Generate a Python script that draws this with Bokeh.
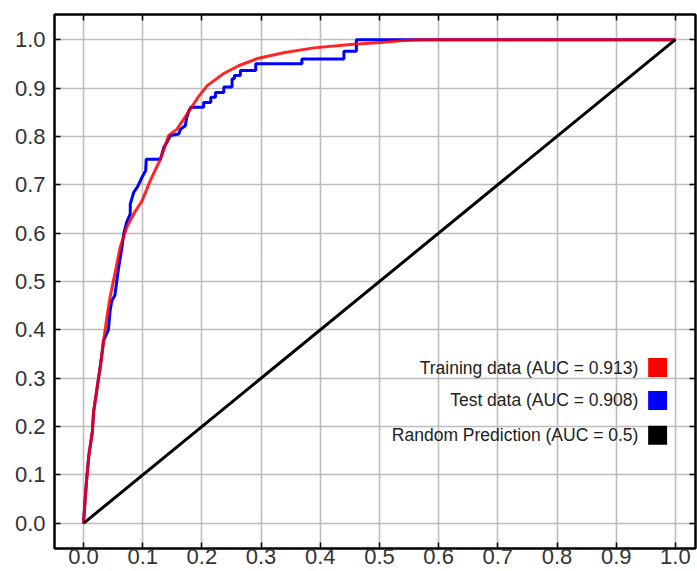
from bokeh.plotting import figure
from bokeh.models import (LinearAxis, FixedTicker, PrintfTickFormatter, Label,
                          BoxAnnotation)
from bokeh.embed import file_html
from bokeh.resources import INLINE

# ---- data ----
train_fpr = [0.0, 0.003, 0.006, 0.009, 0.015, 0.017, 0.023, 0.029, 0.034, 0.040,
             0.045, 0.053, 0.062, 0.073, 0.085, 0.099, 0.113, 0.130, 0.144, 0.158,
             0.175, 0.193, 0.209, 0.237, 0.262, 0.294, 0.338, 0.389, 0.451, 0.502,
             0.540, 0.575, 1.0]
train_tpr = [0.0, 0.054, 0.100, 0.140, 0.190, 0.230, 0.280, 0.330, 0.378, 0.430,
             0.468, 0.516, 0.571, 0.612, 0.640, 0.667, 0.709, 0.753, 0.802, 0.815,
             0.846, 0.880, 0.905, 0.930, 0.946, 0.961, 0.973, 0.983, 0.990, 0.994,
             0.998, 1.0, 1.0]

test_fpr = [0.0, 0.003, 0.006, 0.009, 0.015, 0.017, 0.023, 0.029, 0.034, 0.042,
            0.045, 0.048, 0.053, 0.056, 0.059, 0.065, 0.068, 0.073, 0.079, 0.079,
            0.085, 0.091, 0.099, 0.105, 0.106, 0.130, 0.136, 0.141, 0.147, 0.161,
            0.164, 0.172, 0.174, 0.178, 0.181, 0.203, 0.203, 0.215, 0.215, 0.223,
            0.223, 0.237, 0.237, 0.251, 0.251, 0.255, 0.255, 0.265, 0.265, 0.291,
            0.291, 0.369, 0.369, 0.440, 0.440, 0.461, 0.461, 1.0]
test_tpr = [0.0, 0.054, 0.100, 0.140, 0.190, 0.230, 0.280, 0.330, 0.378, 0.400,
            0.440, 0.461, 0.471, 0.499, 0.526, 0.571, 0.599, 0.623, 0.640, 0.660,
            0.685, 0.695, 0.716, 0.729, 0.753, 0.753, 0.778, 0.788, 0.802, 0.805,
            0.815, 0.822, 0.837, 0.853, 0.860, 0.860, 0.870, 0.870, 0.881, 0.881,
            0.891, 0.891, 0.902, 0.902, 0.919, 0.919, 0.926, 0.926, 0.936, 0.936,
            0.950, 0.950, 0.960, 0.960, 0.976, 0.976, 1.0, 1.0]

random_fpr = [0.0, 1.0]
random_tpr = [0.0, 1.0]

tick_values = [0.0, 0.1, 0.2, 0.3, 0.4, 0.5, 0.6, 0.7, 0.8, 0.9, 1.0]

legend_labels = ["Training data (AUC = 0.913)",
                 "Test data (AUC = 0.908)",
                 "Random Prediction (AUC = 0.5)"]
legend_colors = ["#ff0000", "#0000ff", "#000000"]

FONT = "Liberation Sans"

p = figure(width=697, height=571,
           x_range=(-0.049, 1.034), y_range=(-0.052, 1.052),
           output_backend="svg", toolbar_location=None,
           min_border_left=54, min_border_right=2,
           min_border_top=14, min_border_bottom=23)

p.outline_line_color = "black"
p.outline_line_width = 2

for g in (p.xgrid, p.ygrid):
    g.ticker = FixedTicker(ticks=tick_values)
    g.grid_line_color = "#bdbdbd"
    g.grid_line_width = 1.6

for ax in (p.xaxis[0], p.yaxis[0]):
    ax.ticker = FixedTicker(ticks=tick_values)
    ax.formatter = PrintfTickFormatter(format="%.1f")
    ax.major_label_text_font = FONT
    ax.major_label_text_font_size = "22px"
    ax.major_label_text_color = "#333333"
    ax.major_tick_in = 6
    ax.major_tick_out = 0
    ax.minor_tick_line_color = None
    ax.major_tick_line_color = "black"
    ax.major_tick_line_width = 1.5
    ax.axis_line_color = "black"
    ax.axis_line_width = 2
p.xaxis.major_label_standoff = 0
p.yaxis.major_label_standoff = 9

for loc in ("above", "right"):
    ax = LinearAxis(ticker=FixedTicker(ticks=tick_values),
                    major_label_text_color=None,
                    major_label_text_font_size="1px",
                    major_label_standoff=0,
                    major_tick_in=6, major_tick_out=0,
                    minor_tick_line_color=None,
                    major_tick_line_color="black",
                    major_tick_line_width=1.5,
                    axis_line_color="black", axis_line_width=2)
    p.add_layout(ax, loc)

p.line(test_fpr, test_tpr, line_color="#0000ff", line_width=3)
p.line(train_fpr, train_tpr, line_color="#ff0000", line_width=3, line_alpha=0.85)
p.line(random_fpr, random_tpr, line_color="black", line_width=3)

# custom legend: right-aligned text with a coloured square on its right
legend_y = [0.322, 0.254, 0.182]
for lab, col, yy in zip(legend_labels, legend_colors, legend_y):
    p.add_layout(Label(x=0.9375, y=yy, text=lab, text_align="right",
                       text_baseline="middle", text_font=FONT,
                       text_font_size="17.5px", text_color="#222222"))
    p.add_layout(BoxAnnotation(left=0.954, right=0.986,
                               bottom=yy - 0.0196, top=yy + 0.0196,
                               fill_color=col, fill_alpha=1.0,
                               line_color=None, level="overlay"))

open("out.html", "w").write(file_html(p, INLINE))
